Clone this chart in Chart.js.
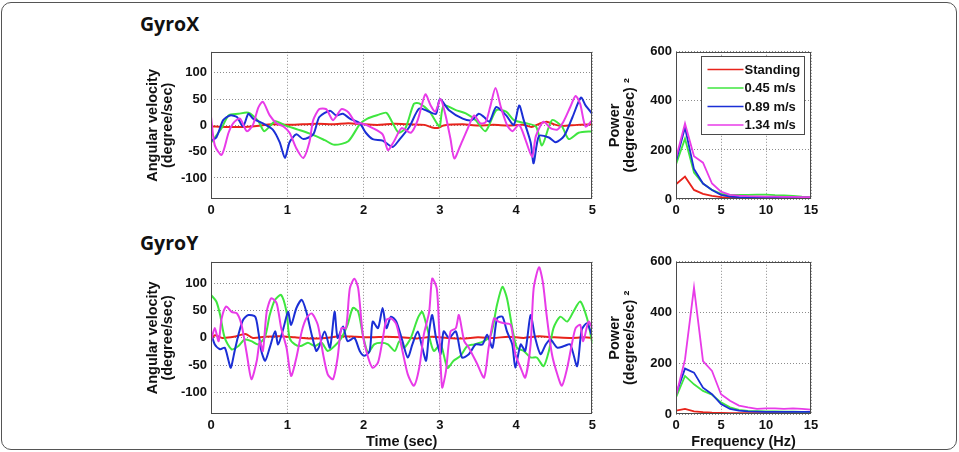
<!DOCTYPE html>
<html><head><meta charset="utf-8">
<script src="https://cdn.jsdelivr.net/npm/chart.js@4.4.1/dist/chart.umd.min.js"></script>
<style>
html,body{margin:0;padding:0;background:#fff;}
body{width:959px;height:452px;position:relative;overflow:hidden;font-family:'Liberation Sans',Arial,sans-serif;}
.frame{position:absolute;left:1px;top:2px;width:956px;height:448px;border:1px solid #555;border-radius:10px;box-sizing:border-box;}
.ttl{position:absolute;font-family:'Open Sans',sans-serif;font-weight:700;font-size:19.5px;line-height:20px;color:#111;}
canvas{position:absolute;}
</style></head><body>
<div class="frame"></div>
<div class="ttl" style="left:140px;top:14px">GyroX</div>
<div class="ttl" style="left:140px;top:233px">GyroY</div>
<canvas id="c1" width="470" height="180" style="left:130px;top:40px"></canvas>
<canvas id="c2" width="230" height="180" style="left:600px;top:40px"></canvas>
<canvas id="c3" width="470" height="200" style="left:130px;top:250px"></canvas>
<canvas id="c4" width="230" height="200" style="left:600px;top:250px"></canvas>
<script>
// ---------- labels / ticks ----------
const seriesLabels = ['Standing', '0.45 m/s', '0.89 m/s', '1.34 m/s'];
const seriesColors = ['#e8231b', '#3fe63f', '#1b2fd6', '#e83be8'];
const timeTicks = [0, 1, 2, 3, 4, 5];
const angleTicks = [-100, -50, 0, 50, 100];
const freqTicks = [0, 5, 10, 15];
const powerTicks = [0, 200, 400, 600];
const freqHz = [0, 1, 2, 3, 4, 5, 6, 7, 8, 9, 10, 11, 12, 13, 14, 15];

// ---------- GyroX time series [time (s), angular velocity] ----------
const gyroXStanding = [[0,-2],[0.2,-3],[0.4,-3],[0.6,-1],[0.8,2],[1.0,1],[1.2,2],[1.4,3],[1.6,2],[1.8,4],[2.0,2],[2.2,1],[2.4,3],[2.6,2],[2.8,1],[2.9,-4],[2.97,-5],[3.05,0],[3.3,2],[3.5,0],[3.7,1],[3.9,0],[4.1,1],[4.2,-3],[4.3,3],[4.4,7],[4.5,2],[4.6,-1],[4.8,1],[5.0,2]];
const gyroXWalk045 = [[0,-33],[0.14,-5],[0.23,19],[0.36,22],[0.49,24],[0.62,8],[0.7,-11],[0.84,8],[0.97,0],[1.14,-8],[1.32,-17],[1.49,-28],[1.62,-37],[1.8,-30],[1.95,2],[2.05,13],[2.19,20],[2.3,24],[2.38,5],[2.46,-14],[2.55,-5],[2.66,41],[2.73,42],[2.86,27],[2.97,2],[3.0,-2],[3.05,38],[3.21,29],[3.34,23],[3.47,10],[3.6,-11],[3.74,29],[3.87,26],[3.97,10],[4.13,4],[4.26,-2],[4.34,-38],[4.47,10],[4.6,-2],[4.69,-26],[4.82,-14],[5.0,-11]];
const gyroXWalk089 = [[0,-29],[0.07,-23],[0.16,10],[0.25,19],[0.34,16],[0.42,-2],[0.49,22],[0.55,13],[0.68,4],[0.81,-8],[0.9,-32],[0.97,-62],[1.03,-32],[1.12,-17],[1.21,-26],[1.34,-17],[1.42,16],[1.56,28],[1.64,19],[1.73,22],[1.82,13],[1.95,4],[2.03,-14],[2.12,-26],[2.25,-29],[2.38,-41],[2.47,-27],[2.6,-3],[2.73,32],[2.86,26],[2.95,22],[3.0,50],[3.12,29],[3.3,13],[3.42,10],[3.51,22],[3.58,16],[3.65,7],[3.74,35],[3.87,19],[3.97,1],[4.04,38],[4.1,10],[4.19,-32],[4.23,-72],[4.3,-20],[4.43,-23],[4.52,-32],[4.63,-20],[4.74,16],[4.85,53],[4.91,38],[5.0,22]];
const gyroXWalk134 = [[0,16],[0.05,-38],[0.14,-56],[0.23,-14],[0.29,4],[0.38,13],[0.47,-11],[0.55,1],[0.62,34],[0.68,45],[0.77,19],[0.86,4],[0.95,-2],[1.03,-14],[1.12,-44],[1.21,-62],[1.29,-32],[1.34,10],[1.42,31],[1.51,31],[1.6,10],[1.71,31],[1.8,25],[1.9,4],[1.97,4],[2.12,-5],[2.25,-17],[2.32,-47],[2.4,-30],[2.5,-5],[2.62,-14],[2.71,10],[2.81,59],[2.88,38],[2.94,26],[3.01,50],[3.08,16],[3.14,-26],[3.19,-63],[3.27,-38],[3.36,-8],[3.45,19],[3.53,4],[3.6,6],[3.66,35],[3.73,71],[3.8,35],[3.88,1],[3.95,-11],[4.04,1],[4.12,-26],[4.21,-60],[4.26,-20],[4.36,7],[4.45,-5],[4.54,-8],[4.62,7],[4.71,35],[4.78,56],[4.84,41],[4.91,-2],[5.0,10]];

// ---------- GyroY time series [time (s), angular velocity] ----------
const gyroYStanding = [[0,-3],[0.05,5],[0.15,0],[0.3,2],[0.45,7],[0.55,0],[0.7,2],[0.9,3],[1.1,1],[1.3,-1],[1.5,0],[1.7,3],[1.9,2],[2.1,1],[2.3,2],[2.5,1],[2.7,-1],[2.9,2],[3.1,0],[3.3,-1],[3.5,1],[3.7,0],[3.9,2],[4.1,0],[4.3,3],[4.5,1],[4.7,0],[4.9,1],[5.0,0]];
const gyroYWalk045 = [[0,79],[0.07,67],[0.12,42],[0.18,0],[0.27,-21],[0.36,-15],[0.44,-3],[0.53,-6],[0.62,-12],[0.71,3],[0.77,42],[0.84,70],[0.92,79],[0.99,48],[1.03,0],[1.1,-12],[1.18,-15],[1.27,-9],[1.36,-15],[1.45,-9],[1.53,-24],[1.62,-15],[1.71,0],[1.79,24],[1.86,55],[1.93,48],[1.99,6],[2.06,-27],[2.14,-12],[2.23,-9],[2.32,-12],[2.41,-24],[2.47,-6],[2.53,-18],[2.62,0],[2.71,36],[2.77,48],[2.84,15],[2.92,-24],[3.01,-12],[3.1,-55],[3.18,-42],[3.27,-33],[3.36,-15],[3.45,-12],[3.58,-6],[3.67,6],[3.75,61],[3.82,94],[3.88,73],[3.95,18],[4.01,-18],[4.1,-24],[4.19,-36],[4.27,-36],[4.36,-52],[4.43,-24],[4.49,18],[4.58,39],[4.67,30],[4.75,48],[4.84,67],[4.93,36],[5.0,-10]];
const gyroYWalk089 = [[0,9],[0.05,-12],[0.12,-21],[0.18,-18],[0.23,-42],[0.26,-55],[0.31,-24],[0.36,6],[0.42,33],[0.49,42],[0.58,39],[0.62,12],[0.66,-24],[0.71,-42],[0.77,-18],[0.84,12],[0.88,-12],[0.95,18],[1.01,48],[1.05,24],[1.12,55],[1.19,70],[1.25,48],[1.32,6],[1.38,-24],[1.42,-15],[1.49,12],[1.56,-18],[1.62,48],[1.66,0],[1.73,21],[1.79,-6],[1.88,0],[1.95,-24],[2.01,-33],[2.08,-24],[2.12,30],[2.19,18],[2.25,55],[2.3,18],[2.36,39],[2.43,30],[2.51,-6],[2.58,-36],[2.64,-12],[2.71,12],[2.77,-18],[2.82,-42],[2.86,12],[2.9,42],[2.95,0],[3.01,-30],[3.05,12],[3.12,0],[3.21,12],[3.29,-36],[3.38,-30],[3.47,-12],[3.56,-12],[3.62,6],[3.69,-18],[3.75,36],[3.82,39],[3.88,12],[3.95,-12],[3.99,-55],[4.06,-12],[4.12,-24],[4.19,42],[4.25,0],[4.32,-30],[4.39,-12],[4.45,-3],[4.54,-18],[4.63,-15],[4.71,-12],[4.8,-52],[4.86,15],[4.93,27],[4.99,6]];
const gyroYWalk134 = [[0,-6],[0.05,18],[0.1,-6],[0.14,36],[0.2,58],[0.27,48],[0.34,45],[0.4,24],[0.47,-30],[0.53,-76],[0.6,-42],[0.64,-6],[0.68,-24],[0.73,48],[0.79,73],[0.86,64],[0.92,18],[0.99,-18],[1.05,-70],[1.12,-36],[1.19,12],[1.25,36],[1.32,45],[1.4,24],[1.47,-30],[1.53,-67],[1.6,-76],[1.66,-36],[1.71,18],[1.77,18],[1.82,91],[1.88,109],[1.93,91],[1.99,6],[2.06,-36],[2.12,-55],[2.19,-45],[2.25,-3],[2.3,33],[2.36,36],[2.43,25],[2.51,-24],[2.58,-67],[2.66,-88],[2.73,-55],[2.79,6],[2.86,48],[2.9,109],[2.96,91],[2.99,18],[3.03,-91],[3.08,-61],[3.14,12],[3.21,18],[3.25,42],[3.32,-6],[3.38,-18],[3.49,-48],[3.58,-73],[3.64,-18],[3.71,36],[3.77,30],[3.84,27],[3.93,24],[3.99,-30],[4.06,-55],[4.12,-73],[4.19,-12],[4.23,91],[4.3,130],[4.35,103],[4.4,42],[4.47,-30],[4.54,-67],[4.6,-88],[4.67,-55],[4.73,-12],[4.78,18],[4.84,24],[4.88,-6],[4.95,30],[5.0,18]];

// ---------- power spectra, one value per freqHz ----------
const gyroXPowerStanding = [60, 91, 37, 21, 13, 8, 6, 5, 5, 4, 4, 4, 3, 3, 3, 3];
const gyroXPower045 = [141, 246, 108, 63, 37, 21, 17, 17, 17, 18, 18, 16, 15, 13, 10, 8];
const gyroXPower089 = [154, 291, 122, 63, 37, 17, 10, 8, 7, 6, 6, 6, 5, 5, 5, 5];
const gyroXPower134 = [167, 308, 174, 148, 63, 30, 17, 14, 12, 11, 10, 10, 9, 9, 8, 8];
const gyroYPowerStanding = [13, 20, 10, 7, 5, 4, 3, 3, 3, 3, 3, 3, 3, 3, 3, 3];
const gyroYPower045 = [65, 150, 117, 91, 76, 46, 26, 16, 12, 11, 10, 10, 9, 9, 8, 8];
const gyroYPower089 = [78, 179, 163, 104, 78, 39, 20, 13, 10, 9, 8, 8, 8, 8, 8, 8];
const gyroYPower134 = [72, 215, 498, 209, 170, 78, 52, 33, 26, 20, 22, 22, 20, 22, 20, 17];

// ---------- helpers ----------
const tickFont = {family: "'Liberation Sans', Arial, sans-serif", weight: 'bold', size: 13};
const titleFont = {family: "'Liberation Sans', Arial, sans-serif", weight: 'bold', size: 14.5, lineHeight: 15/14.5};

function axis(min, max, ticks, isX, size, title, tpad) {
  return {
    type: 'linear', min: min, max: max,
    afterBuildTicks: s => { s.ticks = ticks.map(v => ({value: v})); },
    afterFit: s => { if (isX) s.height = size; else s.width = size; },
    grid: {color: '#8c8c8c', lineWidth: 1, drawTicks: false},
    border: {display: false, dash: [1, 2]},
    ticks: {color: '#111', font: tickFont, padding: 4, maxRotation: 0, autoSkip: false},
    title: title ? {display: true, text: title, color: '#111', font: titleFont, padding: tpad} : {display: false}
  };
}

const boxPlugin = {
  id: 'box',
  afterDraw(chart) {
    const {ctx, chartArea: a} = chart;
    ctx.save();
    ctx.strokeStyle = '#4a4a4a';
    ctx.lineWidth = 1;
    const l = Math.round(a.left) + 0.5, t = Math.round(a.top) + 0.5;
    const r = Math.round(a.right) - 0.5, b = Math.round(a.bottom) - 0.5;
    ctx.strokeRect(l, t, r - l, b - t);
    ctx.restore();
  }
};

const legendPlugin = {
  id: 'boxLegend',
  afterDraw(chart) {
    const {ctx, chartArea: a} = chart;
    const x0 = Math.round(a.left) + 25.5, y0 = Math.round(a.top) + 4.5, w = 103, h = 78;
    ctx.save();
    ctx.fillStyle = '#fff';
    ctx.fillRect(x0, y0, w, h);
    ctx.strokeStyle = '#4a4a4a';
    ctx.lineWidth = 1;
    ctx.strokeRect(x0, y0, w, h);
    ctx.font = "bold 13px 'Liberation Sans', Arial, sans-serif";
    ctx.textBaseline = 'middle';
    ctx.textAlign = 'left';
    chart.data.datasets.forEach((d, i) => {
      const y = y0 + 13 + i * 18.5;
      ctx.strokeStyle = d.borderColor;
      ctx.lineWidth = 1.5;
      ctx.beginPath(); ctx.moveTo(x0 + 6, y); ctx.lineTo(x0 + 42, y); ctx.stroke();
      ctx.fillStyle = '#111';
      ctx.fillText(d.label, x0 + 43, y + 0.5);
    });
    ctx.restore();
  }
};

function timeSets(list) {
  return list.map((s, i) => ({
    label: seriesLabels[i],
    data: s.map(p => ({x: p[0], y: p[1]})),
    borderColor: seriesColors[i], borderWidth: 2, pointRadius: 0, tension: 0.25,
    order: 3 - i
  }));
}
function powerSets(list) {
  return list.map((s, i) => ({
    label: seriesLabels[i],
    data: s.map((v, k) => ({x: freqHz[k], y: v})),
    borderColor: seriesColors[i], borderWidth: 1.8, pointRadius: 0, tension: 0,
    order: 3 - i
  }));
}

function make(id, datasets, x, y, padding, plugins) {
  return new Chart(document.getElementById(id), {
    type: 'line',
    data: {datasets: datasets},
    options: {
      responsive: false, animation: false, parsing: true,
      layout: {padding: padding},
      plugins: {legend: {display: false}, tooltip: {enabled: false}},
      scales: {x: x, y: y}
    },
    plugins: plugins
  });
}

const angTitle = ['Angular velocity', '(degree/sec)'];
const powTitle = ['Power', '(degree/sec) \u00b2'];

make('c1', timeSets([gyroXStanding, gyroXWalk045, gyroXWalk089, gyroXWalk134]),
  axis(0, 5, timeTicks, true, 21, null),
  axis(-140, 140, angleTicks, false, 81, angTitle, {top: 15.5, bottom: 0}),
  {left: 0, top: 5, right: 7, bottom: 0}, [boxPlugin]);

make('c2', powerSets([gyroXPowerStanding, gyroXPower045, gyroXPower089, gyroXPower134]),
  axis(0, 15, freqTicks, true, 21, null),
  axis(0, 600, powerTicks, false, 76, powTitle, {top: 7.5, bottom: 0}),
  {left: 0, top: 5, right: 19, bottom: 0}, [boxPlugin, legendPlugin]);

make('c3', timeSets([gyroYStanding, gyroYWalk045, gyroYWalk089, gyroYWalk134]),
  axis(0, 5, timeTicks, true, 36, 'Time (sec)', {top: 0, bottom: 1}),
  axis(-140, 140, angleTicks, false, 81, angTitle, {top: 15.5, bottom: 0}),
  {left: 0, top: 10, right: 7, bottom: 0}, [boxPlugin]);

make('c4', powerSets([gyroYPowerStanding, gyroYPower045, gyroYPower089, gyroYPower134]),
  axis(0, 15, freqTicks, true, 36, 'Frequency (Hz)', {top: 0, bottom: 1}),
  axis(0, 600, powerTicks, false, 76, powTitle, {top: 7.5, bottom: 0}),
  {left: 0, top: 9, right: 19, bottom: 0}, [boxPlugin]);
</script>
</body></html>
